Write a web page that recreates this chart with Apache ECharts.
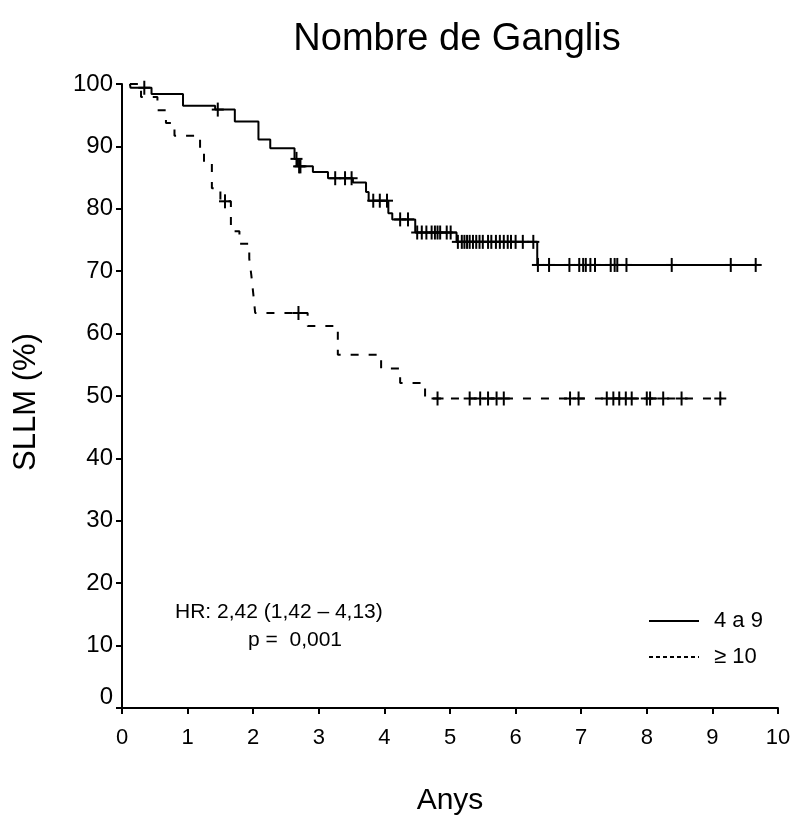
<!DOCTYPE html>
<html>
<head>
<meta charset="utf-8">
<title>Nombre de Ganglis</title>
<script src="https://cdn.jsdelivr.net/npm/echarts@6/dist/echarts.min.js"></script>
<style>
  html, body { margin: 0; padding: 0; background: #fff; }
  #chart { width: 794px; height: 827px; }
</style>
</head>
<body>
<div id="chart"></div>
<script>
// Kaplan-Meier survival (SLLM %) by number of lymph nodes
const FONT = '"Liberation Sans", Arial, Helvetica, sans-serif';

// group "4 a 9": step times (years) and survival (%)
const solidTimes = [0.12, 0.13, 0.45, 0.93, 1.42, 1.72, 2.08, 2.26, 2.63, 2.68, 2.91, 3.14, 3.52, 3.72, 3.76, 4.06, 4.12, 4.47, 5.10, 6.33, 9.66];
const solidSurv  = [100, 99.4, 98.4, 96.5, 95.9, 94.0, 91.1, 89.7, 88.0, 86.8, 85.9, 84.9, 84.2, 82.7, 81.3, 79.3, 78.3, 76.2, 74.7, 71.0, 71.0];
// censored observations, group "4 a 9" (years)
const solidCensored = [0.34, 1.46, 2.66, 2.70, 2.72, 3.25, 3.40, 3.50, 3.83, 3.93, 4.04, 4.24, 4.36,
  4.50, 4.57, 4.64, 4.72, 4.77, 4.81, 4.85, 4.95, 5.01,
  5.12, 5.18, 5.22, 5.26, 5.30, 5.35, 5.40, 5.45, 5.50, 5.58, 5.63, 5.70, 5.76, 5.82, 5.88, 5.93, 6.00, 6.11, 6.27,
  6.34, 6.51, 6.82, 6.97, 7.03, 7.07, 7.14, 7.21, 7.45, 7.51, 7.55, 7.69, 8.38, 9.28, 9.66];

// group ">= 10"
const dashTimes = [0.12, 0.29, 0.54, 0.67, 0.80, 1.19, 1.25, 1.37, 1.50, 1.66, 1.79, 1.94, 1.97, 1.99, 2.01, 2.03, 2.83, 3.29, 3.95, 4.24, 4.62, 9.14];
const dashSurv  = [100, 97.9, 95.8, 93.75, 91.7, 89.6, 87.5, 83.3, 81.2, 76.4, 74.4, 72.0, 69.5, 67.5, 65.5, 63.3, 61.2, 56.6, 54.4, 52.1, 49.6, 49.6];
const dashCensored = [1.57, 2.69, 4.81, 5.30, 5.46, 5.58, 5.71, 5.82, 6.83, 6.96, 7.39, 7.49, 7.58, 7.68, 7.77, 8.00, 8.05, 8.25, 8.53, 9.12];

const groupNames = ['4 a 9', '\u2265 10'];
const xTicks = { min: 0, max: 10, interval: 1 };
const yTicks = { min: 0, max: 100, interval: 10 };
const titleText = 'Nombre de Ganglis';
const hrText = 'HR: 2,42 (1,42 \u2013 4,13)';
const pText = 'p =  0,001';

// survival value of a step curve at time t
function survAt(times, surv, t) {
  let s = surv[0];
  for (let i = 0; i < times.length; i++) {
    if (times[i] <= t) s = surv[i]; else break;
  }
  return s;
}
const zip = (a, b) => a.map((v, i) => [v, b[i]]);
const censorPoints = (c, times, surv) => c.map(t => [t, survAt(times, surv, t)]);

// censor tick drawn as a plus sign
function plusMark(params, api) {
  const p = api.coord([api.value(0), api.value(1)]);
  const st = { stroke: '#000', lineWidth: 2 };
  return {
    type: 'group',
    children: [
      { type: 'line', shape: { x1: p[0] - 6, y1: p[1], x2: p[0] + 6, y2: p[1] }, style: st },
      { type: 'line', shape: { x1: p[0], y1: p[1] - 7, x2: p[0], y2: p[1] + 7 }, style: st }
    ]
  };
}

const chart = echarts.init(document.getElementById('chart'));
chart.setOption({
  animation: false,
  backgroundColor: '#fff',
  textStyle: { fontFamily: FONT, color: '#000' },
  grid: { left: 122, right: 16, top: 84, bottom: 119, containLabel: false, outerBoundsMode: 'none' },
  xAxis: {
    type: 'value', min: xTicks.min, max: xTicks.max, interval: xTicks.interval,
    name: 'Anys', nameLocation: 'middle', nameGap: 78,
    nameTextStyle: { fontSize: 30, fontFamily: FONT, color: '#000' },
    axisLine: { lineStyle: { color: '#000', width: 2 } },
    axisTick: { length: 6, lineStyle: { color: '#000', width: 2 } },
    axisLabel: { fontSize: 22, fontFamily: FONT, color: '#000', margin: 19 },
    splitLine: { show: false }
  },
  yAxis: {
    type: 'value', min: yTicks.min, max: yTicks.max, interval: yTicks.interval,
    name: 'SLLM (%)', nameLocation: 'middle', nameGap: 80, nameRotate: 90,
    nameTextStyle: { fontSize: 31, fontFamily: FONT, color: '#000', padding: [0, 12, 0, 0] },
    axisLine: { show: true, lineStyle: { color: '#000', width: 2 } },
    axisTick: { show: true, length: 6, lineStyle: { color: '#000', width: 2 } },
    axisLabel: {
      fontSize: 24, fontFamily: FONT, color: '#000', margin: 9,
      formatter: v => (v === 0 ? '{z|0}' : String(v)),
      rich: { z: { fontSize: 24, fontFamily: FONT, color: '#000', padding: [0, 0, 22, 0] } }
    },
    splitLine: { show: false }
  },
  legend: {
    orient: 'vertical', left: 643, top: 605,
    itemWidth: 50, itemHeight: 14, itemGap: 14,
    itemStyle: { color: 'rgba(0,0,0,0)', borderColor: 'rgba(0,0,0,0)', borderWidth: 0 },
    textStyle: { fontSize: 22, fontFamily: FONT, color: '#000', padding: [0, 0, 0, 10] },
    data: [
      { name: groupNames[0] },
      { name: groupNames[1], lineStyle: { type: [4, 3] } }
    ]
  },
  graphic: [
    { type: 'text', x: 457, y: 40, style: { text: titleText, font: '38px ' + FONT, fill: '#000', align: 'center', verticalAlign: 'middle' } },
    { type: 'text', x: 175, y: 612, style: { text: hrText, font: '21px ' + FONT, fill: '#000', align: 'left', verticalAlign: 'middle' } },
    { type: 'text', x: 248, y: 640, style: { text: pText, font: '21px ' + FONT, fill: '#000', align: 'left', verticalAlign: 'middle' } }
  ],
  series: [
    {
      name: groupNames[0], type: 'line', step: 'end', symbol: 'none',
      lineStyle: { color: '#000', width: 2 }, itemStyle: { color: '#000' },
      data: zip(solidTimes, solidSurv)
    },
    {
      name: groupNames[1], type: 'line', step: 'end', symbol: 'none',
      lineStyle: { color: '#000', width: 2, type: [8, 10] }, itemStyle: { color: '#000' },
      data: zip(dashTimes, dashSurv)
    },
    { type: 'custom', renderItem: plusMark, data: censorPoints(solidCensored, solidTimes, solidSurv), z: 3 },
    { type: 'custom', renderItem: plusMark, data: censorPoints(dashCensored, dashTimes, dashSurv), z: 3 }
  ]
});
</script>
</body>
</html>
